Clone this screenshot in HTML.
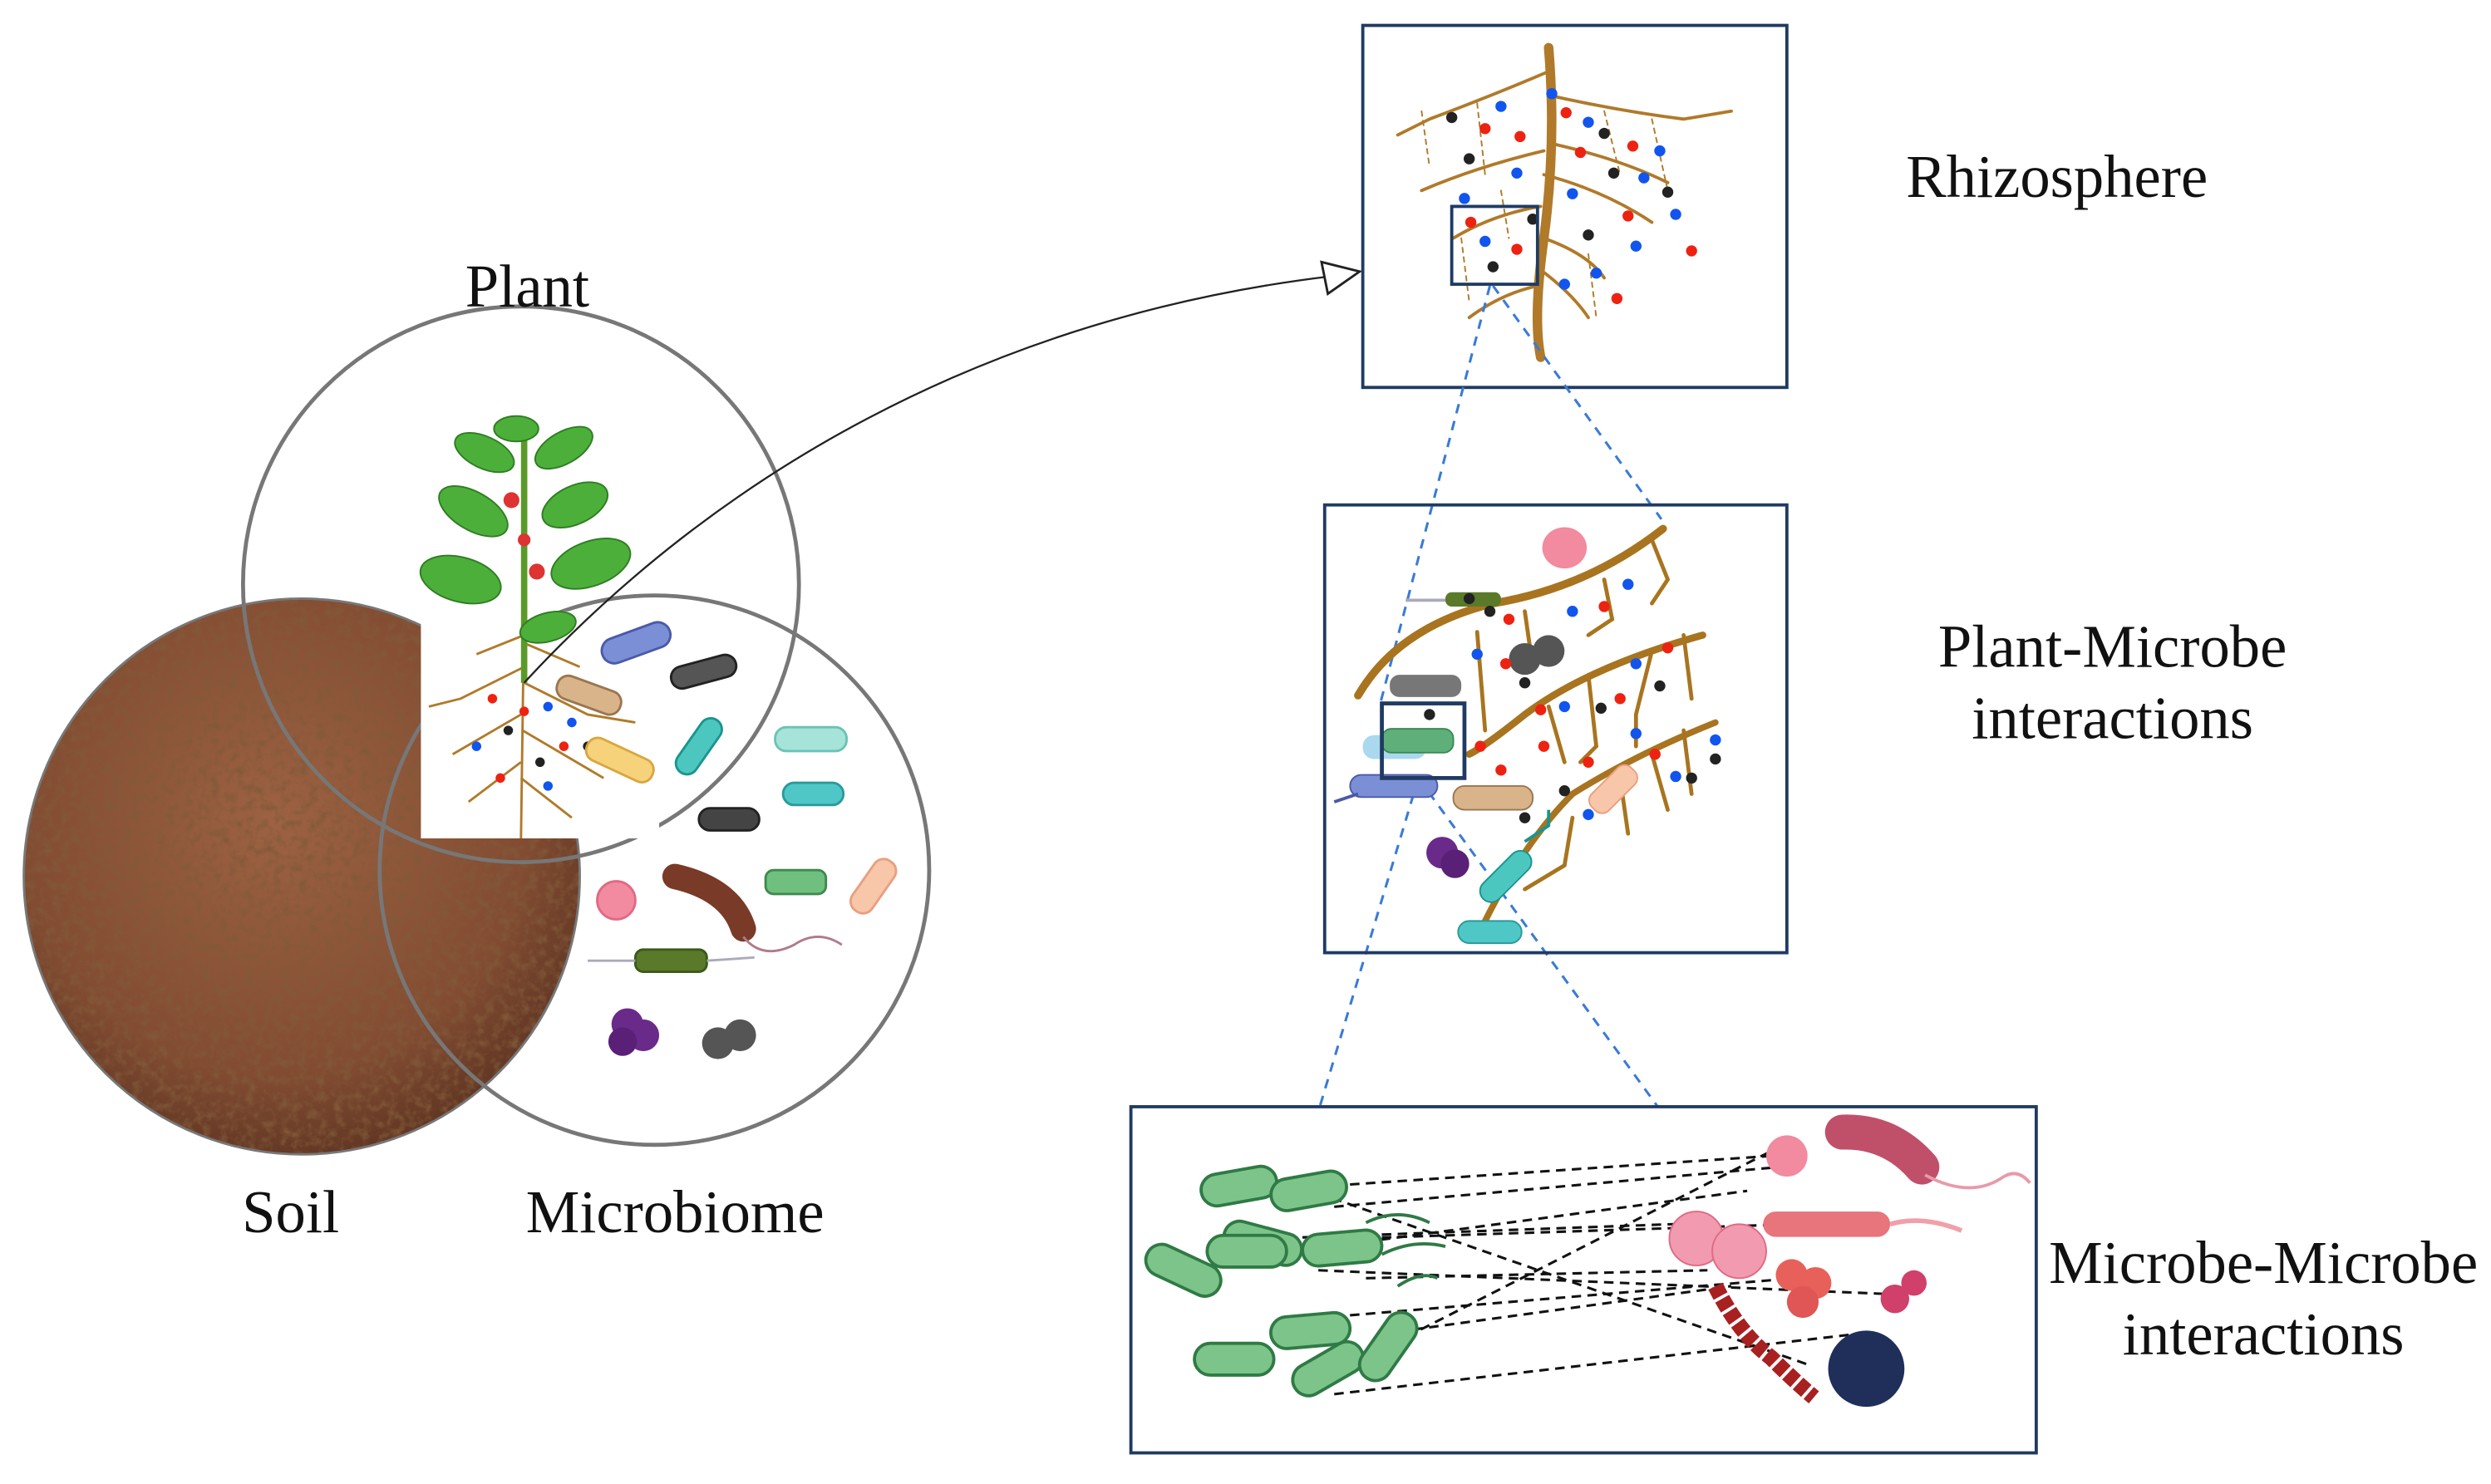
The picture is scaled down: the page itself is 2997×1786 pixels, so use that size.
<!DOCTYPE html>
<html><head><meta charset="utf-8"><style>
html,body{margin:0;padding:0;background:#fff;}
svg{display:block;}
text{font-family:"Liberation Serif",serif;fill:#111;}
</style></head><body>
<svg width="2997" height="1786" viewBox="0 0 1568.3 934.6" xmlns="http://www.w3.org/2000/svg">
<defs>
<radialGradient id="sg" cx="45%" cy="40%" r="65%">
<stop offset="0" stop-color="#9c6242"/><stop offset="0.7" stop-color="#824c32"/><stop offset="1" stop-color="#5a3220"/>
</radialGradient>
<filter id="tex" x="0" y="0" width="100%" height="100%">
<feTurbulence type="fractalNoise" baseFrequency="0.18" numOctaves="3" result="n"/>
<feColorMatrix in="n" type="matrix" values="0 0 0 0 0.22  0 0 0 0 0.1  0 0 0 0 0.04  0 0 0 2.2 -0.95" result="m"/>
<feComposite in="m" in2="SourceGraphic" operator="in"/>
</filter>
<clipPath id="soilc"><circle cx="190" cy="552" r="175"/></clipPath>
</defs>

<circle cx="190" cy="552" r="175" fill="url(#sg)"/>
<rect x="10" y="370" width="360" height="360" clip-path="url(#soilc)" fill="#8a5538" filter="url(#tex)"/>
<circle cx="190" cy="552" r="175" fill="none" stroke="#777" stroke-width="1.5"/>
<circle cx="412" cy="548" r="173" fill="none" stroke="#777" stroke-width="2.5"/>
<circle cx="328" cy="368" r="175" fill="none" stroke="#777" stroke-width="2.5"/>

<rect x="265" y="385" width="150" height="143" fill="#fff"/>
<g stroke="#b07a2a" stroke-width="1.5" fill="none">
<path d="M330 385 L328 528"/>
<path d="M330 420 L290 440 L270 445 M330 430 L370 450 L400 455 M328 450 L285 475 M329 460 L380 490 M328 480 L295 505 M328 490 L360 515 M330 400 L300 412 M330 405 L365 420"/>
</g>
<g>
<circle cx="310" cy="440" r="3" fill="#e21"/><circle cx="345" cy="445" r="3" fill="#15e"/><circle cx="320" cy="460" r="3" fill="#222"/>
<circle cx="355" cy="470" r="3" fill="#e21"/><circle cx="300" cy="470" r="3" fill="#15e"/><circle cx="340" cy="480" r="3" fill="#222"/>
<circle cx="370" cy="470" r="3" fill="#222"/><circle cx="315" cy="490" r="3" fill="#e21"/><circle cx="360" cy="455" r="3" fill="#15e"/>
<circle cx="345" cy="495" r="3" fill="#15e"/><circle cx="330" cy="448" r="3" fill="#e21"/>
</g>
<g>
<path d="M330 265 L330 430" stroke="#5a9a2a" stroke-width="4"/>
<g fill="#4caf3a" stroke="#2e7d22" stroke-width="1">
<ellipse cx="290" cy="365" rx="26" ry="14" transform="rotate(15 290 365)"/>
<ellipse cx="372" cy="355" rx="26" ry="14" transform="rotate(-20 372 355)"/>
<ellipse cx="298" cy="322" rx="24" ry="12" transform="rotate(30 298 322)"/>
<ellipse cx="362" cy="318" rx="22" ry="12" transform="rotate(-25 362 318)"/>
<ellipse cx="305" cy="285" rx="20" ry="10" transform="rotate(25 305 285)"/>
<ellipse cx="355" cy="282" rx="20" ry="10" transform="rotate(-30 355 282)"/>
<ellipse cx="325" cy="270" rx="14" ry="8"/>
<ellipse cx="345" cy="395" rx="18" ry="9" transform="rotate(-15 345 395)"/>
</g>
<circle cx="322" cy="315" r="5" fill="#d33"/><circle cx="338" cy="360" r="5" fill="#d33"/><circle cx="330" cy="340" r="4" fill="#d33"/>
</g>

<g stroke-width="1.5">
<rect x="378" y="397" width="45" height="16" rx="8" fill="#7b8fd6" stroke="#4a5aa8" transform="rotate(-20 400 405)"/>
<rect x="422" y="416" width="42" height="14" rx="7" fill="#555" stroke="#222" transform="rotate(-15 443 423)"/>
<rect x="350" y="430" width="42" height="15" rx="7" fill="#d9b48a" stroke="#9a7650" transform="rotate(20 370 437)"/>
<rect x="368" y="471" width="45" height="15" rx="7" fill="#f6d27a" stroke="#d9a640" transform="rotate(25 390 478)"/>
<rect x="420" y="463" width="40" height="14" rx="7" fill="#4cc7c0" stroke="#1a948f" transform="rotate(-55 440 470)"/>
<rect x="488" y="458" width="45" height="15" rx="7" fill="#a6e3d9" stroke="#6cc2b6"/>
<rect x="493" y="493" width="38" height="14" rx="7" fill="#4fc7c7" stroke="#2a9a9a"/>
<rect x="440" y="509" width="38" height="14" rx="7" fill="#444" stroke="#222"/>
<circle cx="388" cy="567" r="12" fill="#f28aa0" stroke="#e06a84"/>
<path d="M425 552 Q460 560 468 585" stroke="#7a3a28" stroke-width="16" stroke-linecap="round" fill="none"/>
<path d="M468 590 Q480 605 500 595 Q515 585 530 595" stroke="#b07a8a" fill="none"/>
<rect x="482" y="548" width="38" height="15" rx="5" fill="#6fbf7f" stroke="#3d8a4e"/>
<rect x="530" y="550" width="38" height="15" rx="7" fill="#f8c6a8" stroke="#e8a080" transform="rotate(-55 550 557)"/>
<rect x="400" y="598" width="45" height="14" rx="5" fill="#5a7a2a" stroke="#3a5a1a"/>
<path d="M370 605 L400 605 M445 605 L475 603" stroke="#aab" fill="none"/>
<circle cx="395" cy="645" r="10" fill="#6a2a8a"/><circle cx="405" cy="652" r="10" fill="#6a2a8a"/><circle cx="392" cy="656" r="9" fill="#5a2078"/>
<circle cx="452" cy="657" r="10" fill="#555"/><circle cx="466" cy="652" r="10" fill="#555"/>
</g>

<text x="332" y="193" font-size="38" text-anchor="middle">Plant</text>
<text x="183" y="776" font-size="38" text-anchor="middle">Soil</text>
<text x="425" y="776" font-size="38" text-anchor="middle">Microbiome</text>

<path d="M330 430 C 450 300 620 200 838 174" fill="none" stroke="#222" stroke-width="1.2"/>
<polygon points="856,171 832,165 836,185" fill="#fff" stroke="#222" stroke-width="1.5"/>

<rect x="858" y="16" width="267" height="228" fill="#fff" stroke="#1f3b63" stroke-width="2"/>
<g stroke="#b07a2a" fill="none" stroke-linecap="round">
<path d="M975 30 Q980 90 972 150 Q965 200 970 225" stroke-width="6"/>
<g stroke-width="2">
<path d="M975 45 Q940 60 900 75 L880 85 M975 60 Q1020 70 1060 75 L1090 70 M972 95 Q930 105 895 120 M975 90 Q1020 100 1050 115 M972 110 Q1010 120 1040 140 M970 130 Q940 135 915 150 M972 150 Q1000 160 1010 175 M968 180 Q945 185 925 200 M970 170 Q990 185 1000 200"/>
</g>
<g stroke-width="1" stroke-dasharray="3 3">
<path d="M895 70 L900 105 M930 65 L935 110 M1010 70 L1020 110 M1040 75 L1050 120 M920 150 L925 190 M1000 160 L1005 200 M945 120 L950 150"/>
</g>
</g>
<g>
<circle cx="925" cy="100" r="3.5" fill="#222"/><circle cx="945" cy="67" r="3.5" fill="#15e"/><circle cx="957" cy="86" r="3.5" fill="#e21"/><circle cx="935" cy="81" r="3.5" fill="#e21"/>
<circle cx="914" cy="74" r="3.5" fill="#222"/><circle cx="955" cy="109" r="3.5" fill="#15e"/><circle cx="922" cy="125" r="3.5" fill="#15e"/>
<circle cx="977" cy="59" r="3.5" fill="#15e"/><circle cx="986" cy="71" r="3.5" fill="#e21"/><circle cx="1000" cy="77" r="3.5" fill="#15e"/>
<circle cx="1010" cy="84" r="3.5" fill="#222"/><circle cx="1028" cy="92" r="3.5" fill="#e21"/><circle cx="1045" cy="95" r="3.5" fill="#15e"/>
<circle cx="995" cy="96" r="3.5" fill="#e21"/><circle cx="1016" cy="109" r="3.5" fill="#222"/><circle cx="1035" cy="112" r="3.5" fill="#15e"/>
<circle cx="1050" cy="121" r="3.5" fill="#222"/><circle cx="990" cy="122" r="3.5" fill="#15e"/><circle cx="1025" cy="136" r="3.5" fill="#e21"/>
<circle cx="1055" cy="135" r="3.5" fill="#15e"/><circle cx="1030" cy="155" r="3.5" fill="#15e"/><circle cx="1000" cy="148" r="3.5" fill="#222"/>
<circle cx="1065" cy="158" r="3.5" fill="#e21"/><circle cx="1005" cy="172" r="3.5" fill="#15e"/><circle cx="1018" cy="188" r="3.5" fill="#e21"/>
<circle cx="926" cy="140" r="3.5" fill="#e21"/><circle cx="935" cy="152" r="3.5" fill="#15e"/><circle cx="955" cy="157" r="3.5" fill="#e21"/>
<circle cx="940" cy="168" r="3.5" fill="#222"/><circle cx="965" cy="138" r="3.5" fill="#222"/><circle cx="985" cy="179" r="3.5" fill="#15e"/>
</g>
<rect x="914" y="130" width="54" height="49" fill="none" stroke="#1f3b63" stroke-width="2"/>
<text x="1295" y="124" font-size="38" text-anchor="middle">Rhizosphere</text>

<g stroke="#3a7bd5" stroke-width="1.6" stroke-dasharray="6 5" fill="none">
<path d="M938 180 L869 443"/>
<path d="M940 180 L1046 327"/>
<path d="M893 490 L818 740"/>
<path d="M893 490 L1075 740"/>
</g>

<rect x="834" y="318" width="291" height="282" fill="none" stroke="#1f3b63" stroke-width="2"/>
<g stroke="#a8741f" fill="none" stroke-linecap="round">
<path d="M1047 333 Q1000 370 940 380 Q880 395 855 438" stroke-width="5"/>
<path d="M1072 400 Q1000 420 960 450 Q935 470 925 475" stroke-width="4.5"/>
<path d="M1080 455 Q1030 475 990 500 Q960 530 935 580" stroke-width="4"/>
<g stroke-width="2.5">
<path d="M1040 340 L1050 365 L1040 380 M1010 365 L1015 390 L1000 400 M960 385 L965 420 M930 398 L935 460 M1060 400 L1065 440 M1040 410 L1030 450 L1030 470 M1000 425 L1005 470 L995 480 M975 445 L985 480 M1060 460 L1065 500 M1040 475 L1050 510 M1020 490 L1025 525 M990 515 L985 545 L960 560"/>
</g>
</g>
<g>
<ellipse cx="985" cy="345" rx="14" ry="13" fill="#f28aa0"/>
<path d="M885 378 L930 378" stroke="#aab" stroke-width="2"/><rect x="910" y="373" width="35" height="9" rx="4" fill="#5a7a2a"/>
<circle cx="960" cy="415" r="10" fill="#555"/><circle cx="975" cy="410" r="10" fill="#555"/>
<rect x="875" y="425" width="45" height="14" rx="6" fill="#555" opacity="0.8"/>
<rect x="858" y="463" width="40" height="15" rx="7" fill="#a9d8ef"/>
<rect x="870" y="459" width="45" height="15" rx="6" fill="#5faf7a" stroke="#3a8a55"/>
<rect x="850" y="488" width="55" height="14" rx="7" fill="#7b8fd6" stroke="#4a5aa8"/>
<path d="M840 505 L855 500" stroke="#4a5aa8" stroke-width="2"/>
<rect x="915" y="495" width="50" height="15" rx="7" fill="#d9b48a" stroke="#9a7650"/>
<rect x="998" y="490" width="35" height="15" rx="6" fill="#f8c6a8" stroke="#e8a080" transform="rotate(-45 1015 497)"/>
<circle cx="908" cy="537" r="10" fill="#6a2a8a"/><circle cx="916" cy="544" r="9" fill="#5a2078"/>
<rect x="928" y="545" width="40" height="14" rx="7" fill="#4cc7c0" stroke="#1a948f" transform="rotate(-45 948 552)"/>
<path d="M960 530 L975 520 L975 510" stroke="#1a948f" stroke-width="2" fill="none"/>
<rect x="918" y="580" width="40" height="14" rx="7" fill="#4fc7c7" stroke="#2a9a9a"/>
<circle cx="925" cy="377" r="3.5" fill="#222"/><circle cx="938" cy="385" r="3.5" fill="#222"/><circle cx="950" cy="390" r="3.5" fill="#e21"/>
<circle cx="990" cy="385" r="3.5" fill="#15e"/><circle cx="1010" cy="382" r="3.5" fill="#e21"/><circle cx="1025" cy="368" r="3.5" fill="#15e"/>
<circle cx="930" cy="412" r="3.5" fill="#15e"/><circle cx="948" cy="418" r="3.5" fill="#e21"/><circle cx="960" cy="430" r="3.5" fill="#222"/>
<circle cx="1050" cy="408" r="3.5" fill="#e21"/><circle cx="1030" cy="418" r="3.5" fill="#15e"/><circle cx="1020" cy="440" r="3.5" fill="#e21"/>
<circle cx="1045" cy="432" r="3.5" fill="#222"/><circle cx="970" cy="447" r="3.5" fill="#e21"/><circle cx="985" cy="445" r="3.5" fill="#15e"/>
<circle cx="1008" cy="446" r="3.5" fill="#222"/><circle cx="1030" cy="462" r="3.5" fill="#15e"/><circle cx="1042" cy="475" r="3.5" fill="#e21"/>
<circle cx="1080" cy="466" r="3.5" fill="#15e"/><circle cx="1080" cy="478" r="3.5" fill="#222"/><circle cx="1065" cy="490" r="3.5" fill="#222"/>
<circle cx="1055" cy="489" r="3.5" fill="#15e"/><circle cx="1000" cy="480" r="3.5" fill="#e21"/><circle cx="972" cy="470" r="3.5" fill="#e21"/>
<circle cx="945" cy="485" r="3.5" fill="#e21"/><circle cx="985" cy="498" r="3.5" fill="#222"/><circle cx="1000" cy="513" r="3.5" fill="#15e"/>
<circle cx="960" cy="515" r="3.5" fill="#222"/><circle cx="932" cy="470" r="3.5" fill="#e21"/><circle cx="900" cy="450" r="3.5" fill="#222"/>
</g>
<rect x="870" y="443" width="52" height="47" fill="none" stroke="#1f3b63" stroke-width="2.5"/>
<text x="1330" y="420" font-size="38" text-anchor="middle">Plant-Microbe</text>
<text x="1330" y="465" font-size="38" text-anchor="middle">interactions</text>

<rect x="712" y="697" width="570" height="218" fill="#fff" stroke="#1f3b63" stroke-width="2"/>
<g stroke="#111" stroke-width="1.6" stroke-dasharray="6 4" fill="none">
<path d="M820 748 L1115 728"/><path d="M840 760 L1120 735"/>
<path d="M820 748 L1140 860"/><path d="M800 780 L1080 770"/>
<path d="M850 780 L1160 770"/><path d="M830 800 L1190 815"/>
<path d="M860 805 L1075 800"/><path d="M800 790 L1100 750"/>
<path d="M830 830 L1130 805"/><path d="M850 860 L1115 725"/>
<path d="M840 878 L1170 840"/><path d="M870 840 L1090 810"/>
</g>
<g fill="#7dc48a" stroke="#2f7a45" stroke-width="2">
<rect x="756" y="737" width="48" height="20" rx="10" transform="rotate(-10 780 747)"/>
<rect x="800" y="740" width="48" height="20" rx="10" transform="rotate(-10 824 750)"/>
<rect x="720" y="790" width="50" height="20" rx="10" transform="rotate(25 745 800)"/>
<rect x="770" y="773" width="50" height="20" rx="10" transform="rotate(15 795 783)"/>
<rect x="820" y="776" width="50" height="20" rx="10" transform="rotate(-5 845 786)"/>
<rect x="760" y="778" width="50" height="20" rx="10"/>
<rect x="800" y="828" width="50" height="20" rx="10" transform="rotate(-5 825 838)"/>
<rect x="752" y="846" width="50" height="20" rx="10"/>
<rect x="812" y="852" width="48" height="20" rx="10" transform="rotate(-30 836 862)"/>
<rect x="850" y="838" width="48" height="20" rx="10" transform="rotate(-55 874 848)"/>
</g>
<g fill="none" stroke="#2f7a45" stroke-width="2">
<path d="M870 790 Q890 780 910 785"/><path d="M880 810 Q895 800 905 805"/><path d="M860 770 Q880 760 900 770"/>
</g>
<g>
<circle cx="1125" cy="728" r="13" fill="#f28aa0"/>
<path d="M1160 713 Q1190 712 1210 735" stroke="#c0506a" stroke-width="22" stroke-linecap="round" fill="none"/>
<path d="M1212 740 Q1240 755 1260 742 Q1270 735 1278 745" stroke="#e89aaa" stroke-width="2" fill="none"/>
<circle cx="1068" cy="780" r="17" fill="#f29ab0" stroke="#e06a84"/><circle cx="1095" cy="788" r="17" fill="#f29ab0" stroke="#e06a84"/>
<rect x="1110" y="763" width="80" height="16" rx="8" fill="#e8747c"/>
<path d="M1190 771 Q1210 765 1235 775" stroke="#f0a0a8" stroke-width="3" fill="none"/>
<circle cx="1128" cy="803" r="10" fill="#e8605a"/><circle cx="1143" cy="808" r="10" fill="#e8605a"/><circle cx="1135" cy="820" r="10" fill="#e05555"/>
<circle cx="1193" cy="818" r="9" fill="#d0406a"/><circle cx="1205" cy="808" r="8" fill="#d0406a"/>
<path d="M1080 810 Q1095 840 1115 855 Q1130 870 1142 880" stroke="#a82020" stroke-width="10" stroke-dasharray="7 2" fill="none"/>
<circle cx="1175" cy="862" r="24" fill="#1f2f5a"/>
</g>
<text x="1425" y="808" font-size="38" text-anchor="middle">Microbe-Microbe</text>
<text x="1425" y="853" font-size="38" text-anchor="middle">interactions</text>
</svg>
</body></html>
